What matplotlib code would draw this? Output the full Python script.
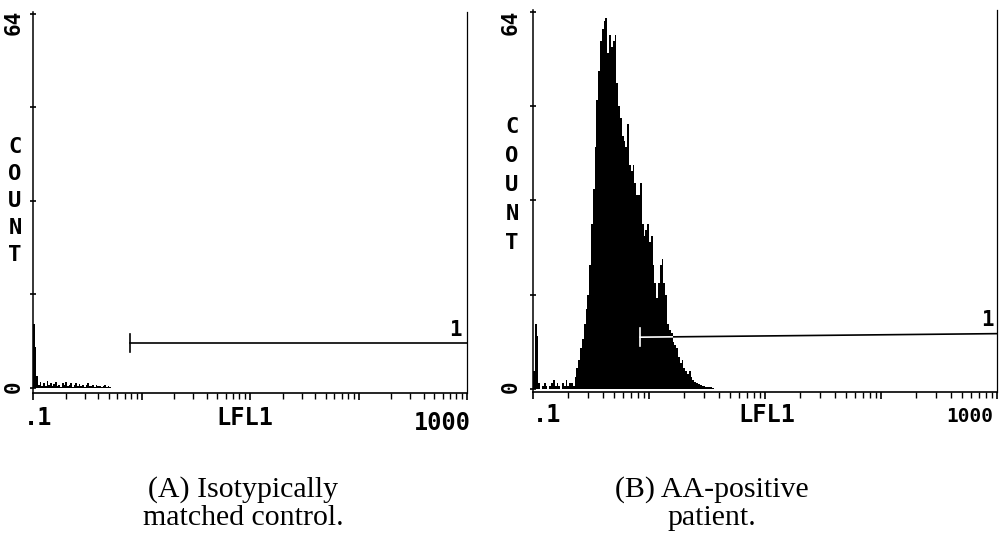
import numpy as np
import matplotlib
matplotlib.use("Agg")
import matplotlib.pyplot as plt

# channel counts (64 channels per decade, channel 0 starts at LFL1 = 0.1)
counts_a = [11, 7, 2, 0.6, 1.0, 0.4, 0.8, 0.3, 1.2, 0.5,
            0.9, 0.3, 0.7, 1.1, 0.4, 0.6, 0.2, 0.9, 0.5, 1.0,
            0.3, 0.6, 0.8, 0.2, 0.5, 0.9, 0.4, 0.7, 0.3, 0.6,
            0.2, 0.5, 0.8, 0.3, 0.4, 0.6, 0.2, 0.5, 0.3, 0.4,
            0.2, 0.3, 0.5, 0.2, 0.3, 0.2]

counts_b = [3, 11, 9, 1, 0, 0.5, 1, 0.5, 0, 0.5,
            1, 1.5, 0.5, 1, 0.5, 0, 1, 0.5, 1.5, 0.5,
            1, 1, 0.5, 2, 3.5, 5, 7, 8.5, 11, 13.5,
            16, 21, 28, 34, 41, 49, 54, 59, 61, 62.5,
            63, 57, 60, 58, 59, 60, 52, 48, 46, 43,
            42, 41, 45, 38, 37, 38, 35, 33, 33, 35,
            28, 26, 27, 28, 25, 26, 21, 18, 15.5, 18,
            21, 22, 18, 16, 11, 10, 9.5, 8, 7.5, 7,
            5.5, 4.5, 5, 3.5, 3, 2.5, 3, 2, 1.5, 1.2,
            1, 0.8, 0.7, 0.6, 0.5, 0.4, 0.4, 0.3, 0.3, 0.2]

# marker "1" (start, end) in LFL1 and its height in counts
marker_a_x = [0.78, 1000]
marker_a_y = [7.7, 7.7]
marker_b_x = [0.84, 1000]
marker_b_y = [8.8, 9.4]

y_ticks = [0, 16, 32, 48, 64]
captions = ["(A) Isotypically\nmatched control.", "(B) AA-positive\npatient."]

W, H = 1003, 545
fig = plt.figure(figsize=(W / 100, H / 100), dpi=100)

def px(x, y):
    return x / W, 1 - y / H

mono = dict(family="DejaVu Sans Mono", weight="bold", color="black")


def panel(rect, counts, mx, my, ybottom, lbl1_xy):
    ax = fig.add_axes(rect)
    ch = np.arange(len(counts) + 1)
    edges = 0.1 * 10 ** (ch / 64)
    fill = ax.stairs(counts, edges, fill=True, color="black", lw=0, zorder=3)
    # marker line: black outside the histogram, white where it crosses it
    for col, z in [("black", 2), ("white", 4)]:
        l1, = ax.plot(mx, my, color=col, lw=1.2, zorder=z)
        l2, = ax.plot([mx[0], mx[0]], [my[0] - 1.5, my[0] + 1.5], color=col, lw=1.2, zorder=z)
        if col == "white":
            l1.set_clip_path(fill)
            l2.set_clip_path(fill)
    ax.text(lbl1_xy[0], lbl1_xy[1], "1", fontsize=15, ha="center", va="center", **mono)

    ax.set_xscale("log")
    ax.set_xlim(0.1, 1000)
    ax.set_ylim(ybottom, 64.3)
    ax.set_yticks(y_ticks)
    ax.tick_params(which="both", labelbottom=False, labelleft=False)
    ax.tick_params(axis="x", which="major", direction="out", length=5, width=1.2)
    ax.tick_params(axis="x", which="minor", direction="out", length=4, width=1)
    ax.tick_params(axis="y", direction="inout", length=5, width=1.2)
    ax.spines["top"].set_visible(False)
    ax.spines["right"].set_linestyle((0, (3, 1)))
    ax.spines["right"].set_linewidth(0.9)
    ax.spines["left"].set_linewidth(1.1)
    ax.spines["bottom"].set_linewidth(1.2)
    return ax


# panel A: x 33..467 px, axis line at y=393, 64 at y=12
panel([33 / W, (H - 393) / H, 434 / W, 381 / H], counts_a,
      marker_a_x, marker_a_y, -0.85, (780, 10.0))
# panel B: x 533..997 px, axis line at y=392, 64 at y=10
panel([533 / W, (H - 392) / H, 464 / W, 382 / H], counts_b,
      marker_b_x, marker_b_y, -0.5, (820, 11.7))

# axis texts, printed by the cytometer
for x0, ytop, yzero, cy0, cstep, xl, fs, fs_end in [
        (14, 22, 387, 147, 27, (38, 245, 442, 418), 17, 17),
        (511, 22, 387, 127, 29, (547, 767, 970, 415), 17, 14)]:
    fig.text(*px(x0, ytop), "64", rotation=90, fontsize=15, ha="center", va="center", **mono)
    fig.text(*px(x0, yzero), "0", rotation=90, fontsize=15, ha="center", va="center", **mono)
    for i, c in enumerate("COUNT"):
        fig.text(*px(x0 + 1, cy0 + cstep * i), c, fontsize=16, ha="center", va="center", **mono)
    fig.text(*px(xl[0], xl[3]), ".1", fontsize=fs, ha="center", va="center", **mono)
    fig.text(*px(xl[1], xl[3]), "LFL1", fontsize=fs, ha="center", va="center", **mono)
    fig.text(*px(xl[2], xl[3] + 5 - (fs - fs_end)), "1000", fontsize=fs_end,
             ha="center", va="center", **mono)

fig.text(*px(243, 504), captions[0], fontsize=21.5, family="Liberation Serif",
         ha="center", va="center", linespacing=1.1)
fig.text(*px(712, 504), captions[1], fontsize=21.5, family="Liberation Serif",
         ha="center", va="center", linespacing=1.1)

fig.savefig("out.png", dpi=100, facecolor="white")
